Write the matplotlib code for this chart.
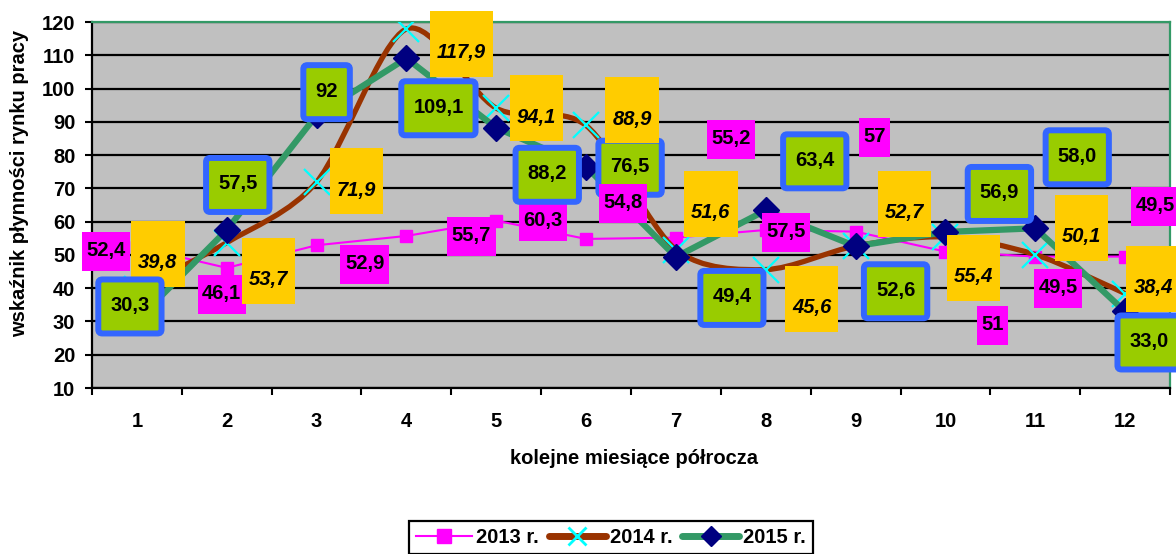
import numpy as np
import matplotlib
matplotlib.use("Agg")
import matplotlib.pyplot as plt
from matplotlib.path import Path
from matplotlib.patches import PathPatch, BoxStyle
from matplotlib.lines import Line2D

# ---------------- data ----------------
months = list(range(1, 13))
month_labels = [str(m) for m in months]
v2013 = [52.4, 46.1, 52.9, 55.7, 60.3, 54.8, 55.2, 57.5, 57.0, 51.0, 49.5, 49.5]
v2014 = [39.8, 53.7, 71.9, 117.9, 94.1, 88.9, 51.6, 45.6, 52.7, 55.4, 50.1, 38.4]
v2015 = [30.3, 57.5, 92.0, 109.1, 88.2, 76.5, 49.4, 63.4, 52.6, 56.9, 58.0, 33.0]
labels2013 = ["52,4", "46,1", "52,9", "55,7", "60,3", "54,8", "55,2", "57,5", "57", "51", "49,5", "49,5"]
labels2014 = ["39,8", "53,7", "71,9", "117,9", "94,1", "88,9", "51,6", "45,6", "52,7", "55,4", "50,1", "38,4"]
labels2015 = ["30,3", "57,5", "92", "109,1", "88,2", "76,5", "49,4", "63,4", "52,6", "56,9", "58,0", "33,0"]
series_names = ["2013 r.", "2014 r.", "2015 r."]
yticks = list(range(10, 121, 10))
xlabel = "kolejne miesiące półrocza"
ylabel = "wskaźnik płynności rynku pracy"

# ---------------- layout (label offsets in pixels from the point) ----------------
off2013 = [(-31, -4), (-5, -26), (48, -18), (65, 0), (47, 0), (37, 36), (55, 99),
           (20, -2), (19, 95), (47, -73), (23, -31), (30, 51)]
off2014 = [(21, 34), (42, -29), (40, 0), (55, -16), (40, -1), (46, 14), (35, 45),
           (46, -30), (49, 41), (28, -32), (46, 26), (28, 14)]
off2015 = [(-7, 15), (11, 46), (10, 24), (32, -49), (51, -46), (44, 0), (56, -40),
           (49, 50), (40, -44), (54, 39), (42, 72), (24, -30)]

C_MAG = "#FF00FF"
C_BROWN = "#993300"
C_CYAN = "#00FFFF"
C_GREEN = "#339966"
C_NAVY = "#000080"
C_LIME = "#99CC00"
C_BLUE = "#3366FF"
C_YEL = "#FFCC00"
FS = 14.5

plt.rcParams["font.family"] = ["Liberation Sans", "DejaVu Sans"]
plt.rcParams["font.weight"] = "bold"

W, H = 1176, 554
fig = plt.figure(figsize=(W / 100, H / 100), dpi=100)
fig.patch.set_facecolor("white")
ax = fig.add_axes([92 / W, 1 - 388 / H, (1170 - 92) / W, (388 - 22) / H])
ax.set_facecolor("#C0C0C0")
ax.set_xlim(0.5, 12.5)
ax.set_ylim(10, 120)
ax.set_yticks(yticks)
ax.set_yticklabels([str(t) for t in yticks], fontsize=FS, fontweight="bold")
ax.yaxis.grid(True, color="black", lw=1.6)
ax.set_axisbelow(True)
ax.set_xticks(np.arange(0.5, 12.6, 1.0))
ax.set_xticklabels([])
ax.set_xticks(months, minor=True)
ax.set_xticklabels(month_labels, minor=True, fontsize=FS, fontweight="bold")
ax.tick_params(axis="x", which="major", length=5, width=1.5, direction="out")
ax.tick_params(axis="x", which="minor", length=0, pad=17)
ax.tick_params(axis="y", which="major", length=5, width=1.5, direction="out", pad=7)
for s in ("left", "bottom"):
    ax.spines[s].set_color("black")
    ax.spines[s].set_linewidth(1.6)
for s in ("top", "right"):
    ax.spines[s].set_color(C_GREEN)
    ax.spines[s].set_linewidth(1.6)


def smooth_path(xs, ys, k=7.0):
    P = np.column_stack([xs, ys]).astype(float)
    n = len(P)
    verts = [P[0]]
    codes = [Path.MOVETO]
    for i in range(n - 1):
        p0 = P[i - 1] if i > 0 else P[i]
        p1 = P[i]
        p2 = P[i + 1]
        p3 = P[i + 2] if i + 2 < n else P[i + 1]
        verts += [p1 + (p2 - p0) / k, p2 - (p3 - p1) / k, p2]
        codes += [Path.CURVE4] * 3
    return Path(verts, codes)


# 2013
ax.plot(months, v2013, color=C_MAG, lw=1.5, marker="s", ms=8.5, mfc=C_MAG, mec=C_MAG, zorder=3)
# 2014 (smoothed)
ax.add_patch(PathPatch(smooth_path(months, v2014), fc="none", ec=C_BROWN, lw=3.8,
                       capstyle="round", joinstyle="round", zorder=4))
ax.plot(months, v2014, ls="none", marker="x", ms=19, mew=1.6, mec=C_CYAN, zorder=4.5)
# 2015
ax.plot(months, v2015, color=C_GREEN, lw=4.5, marker="D", ms=13.5, mfc=C_NAVY, mec=C_NAVY,
        solid_capstyle="round", zorder=5)


def box_style(padx, height, shift=0.0, rounding=None):
    def style(x0, y0, w, h, mutation_size):
        cx = x0 + w / 2.0
        cy = y0 + h / 2.0 + shift
        bw = w + 2 * padx
        bh = height
        if rounding:
            return BoxStyle.Round(pad=0, rounding_size=rounding)(cx - bw / 2, cy - bh / 2, bw, bh, 1.0)
        return Path([(cx - bw / 2, cy - bh / 2), (cx + bw / 2, cy - bh / 2),
                     (cx + bw / 2, cy + bh / 2), (cx - bw / 2, cy + bh / 2),
                     (cx - bw / 2, cy - bh / 2)], closed=True)
    return style


mag_style = box_style(4.5, 39, shift=-1)
yel_style = box_style(7, 66, shift=9)
grn_style = box_style(12, 54, shift=-1, rounding=4)

for i, m in enumerate(months):
    dx, dy = off2013[i]
    ax.annotate(labels2013[i], xy=(m, v2013[i]), xytext=(dx, dy), textcoords="offset pixels",
                ha="center", va="center", fontsize=FS, fontweight="bold", color="black",
                bbox=dict(boxstyle=mag_style, fc=C_MAG, ec="none", lw=0),
                annotation_clip=False, zorder=6)
for i, m in enumerate(months):
    dx, dy = off2014[i]
    ax.annotate(labels2014[i], xy=(m, v2014[i]), xytext=(dx, dy - 8), textcoords="offset pixels",
                ha="center", va="center", fontsize=FS, fontweight="bold", fontstyle="italic",
                color="black",
                bbox=dict(boxstyle=yel_style, fc=C_YEL, ec="none", lw=0),
                annotation_clip=False, zorder=7)
for i, m in enumerate(months):
    dx, dy = off2015[i]
    z = 5.9 if i == 5 else 8
    ax.annotate(labels2015[i], xy=(m, v2015[i]), xytext=(dx, dy), textcoords="offset pixels",
                ha="center", va="center", fontsize=FS, fontweight="bold", color="black",
                bbox=dict(boxstyle=grn_style, fc=C_LIME, ec=C_BLUE, lw=4.3),
                annotation_clip=False, zorder=z)

fig.text(634 / W, 1 - 458 / H, xlabel, ha="center", va="center", fontsize=FS, fontweight="bold")
fig.text(20 / W, 1 - 183 / H, ylabel, ha="center", va="center", rotation=90,
         fontsize=FS, fontweight="bold")

handles = [
    Line2D([], [], color=C_MAG, lw=1.5, marker="s", ms=10.5, mfc=C_MAG, mec=C_MAG),
    Line2D([], [], color=C_BROWN, lw=5, marker="x", ms=13, mew=2, mec=C_CYAN, solid_capstyle="round"),
    Line2D([], [], color=C_GREEN, lw=5, marker="D", ms=10, mfc=C_NAVY, mec=C_NAVY, solid_capstyle="round"),
]
leg = fig.legend(handles, series_names, loc="upper left", bbox_to_anchor=(409 / W, 1 - 521 / H),
                 ncol=3, frameon=True, fancybox=False, edgecolor="black", framealpha=1,
                 borderpad=0.35, handlelength=2.8, handletextpad=0.2, columnspacing=0.5,
                 borderaxespad=0, prop={"size": FS, "weight": "bold"})
leg.get_frame().set_linewidth(1.6)

fig.savefig("out.png", dpi=100)
